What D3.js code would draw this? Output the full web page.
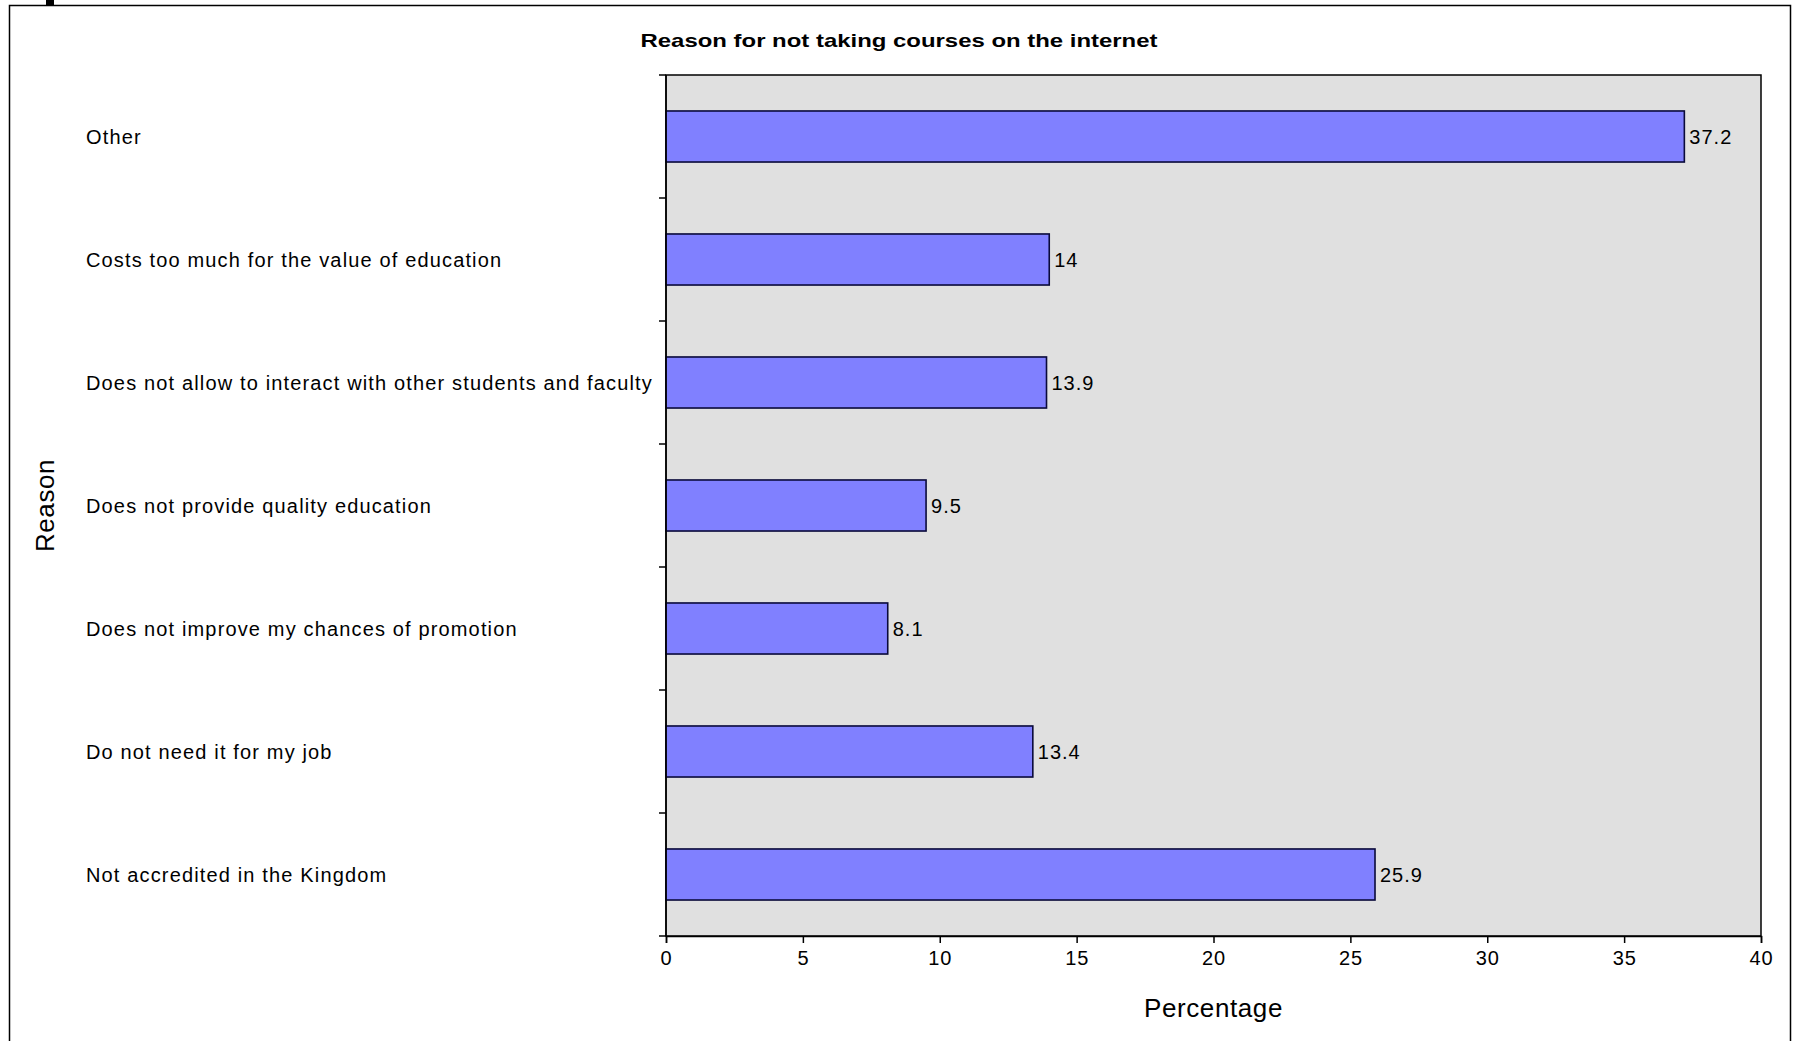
<!DOCTYPE html>
<html>
<head>
<meta charset="utf-8">
<script src="https://cdn.jsdelivr.net/npm/d3@7"></script>
<style>
  html, body { margin: 0; padding: 0; background: #fff; }
  svg { display: block; }
  text { font-family: "Liberation Sans", Arial, sans-serif; fill: #000; }
</style>
</head>
<body>
<svg id="chart" width="1796" height="1041"></svg>
<script>
const categories = [
  "Other",
  "Costs too much for the value of education",
  "Does not allow to interact with other students and faculty",
  "Does not provide quality education",
  "Does not improve my chances of promotion",
  "Do not need it for my job",
  "Not accredited in the Kingdom"
];
const values = [37.2, 14, 13.9, 9.5, 8.1, 13.4, 25.9];
const xTickValues = [0, 5, 10, 15, 20, 25, 30, 35, 40];
const titleText = "Reason for not taking courses on the internet";
const xAxisTitle = "Percentage";
const yAxisTitle = "Reason";

const svg = d3.select("#chart");
const plot = { left: 666, right: 1761, top: 75, bottom: 936 };

// outer frame
svg.append("rect")
  .attr("x", 9.5).attr("y", 5.5)
  .attr("width", 1781).attr("height", 1060)
  .attr("fill", "#fff").attr("stroke", "#000").attr("stroke-width", 1.5);
// small dark mark at the top-left edge
svg.append("rect").attr("x", 46).attr("y", 0).attr("width", 8).attr("height", 6).attr("fill", "#000");

const x = d3.scaleLinear().domain([0, 40]).range([plot.left, plot.right]);
const y = d3.scaleBand().domain(categories).range([plot.top, plot.bottom])
  .paddingInner(0.585).paddingOuter(0.2925);

// plot background
svg.append("rect")
  .attr("x", plot.left).attr("y", plot.top)
  .attr("width", plot.right - plot.left).attr("height", plot.bottom - plot.top)
  .attr("fill", "#e0e0e0").attr("stroke", "#000").attr("stroke-width", 1.5);

// bars
svg.append("g").selectAll("rect")
  .data(categories)
  .join("rect")
  .attr("x", x(0))
  .attr("y", d => y(d))
  .attr("width", (d, i) => x(values[i]) - x(0))
  .attr("height", y.bandwidth())
  .attr("fill", "#8080ff")
  .attr("stroke", "#0a0a3a")
  .attr("stroke-width", 1.6);

// value labels
svg.append("g").selectAll("text")
  .data(categories)
  .join("text")
  .attr("x", (d, i) => x(values[i]) + 5)
  .attr("y", d => y(d) + y.bandwidth() / 2)
  .attr("dy", "0.35em")
  .attr("font-size", 20)
  .attr("letter-spacing", 1)
  .text((d, i) => String(values[i]));

// x axis
const xAxis = d3.axisBottom(x).tickValues(xTickValues).tickSize(7).tickPadding(8).tickFormat(d3.format("d"));
const gx = svg.append("g").attr("transform", `translate(0,${plot.bottom})`).call(xAxis);
gx.select(".domain").attr("stroke", "#000").attr("stroke-width", 1.5);
gx.selectAll(".tick line").attr("stroke", "#000").attr("stroke-width", 1.5);
gx.selectAll(".tick text").attr("font-size", 20).attr("font-family", "Liberation Sans, Arial, sans-serif")
  .attr("fill", "#000").attr("letter-spacing", 0.8);

// y axis ticks at band boundaries
const boundaries = d3.range(categories.length + 1).map(i => plot.top + i * (plot.bottom - plot.top) / categories.length);
svg.append("g").selectAll("line")
  .data(boundaries)
  .join("line")
  .attr("x1", plot.left - 7).attr("x2", plot.left)
  .attr("y1", d => d).attr("y2", d => d)
  .attr("stroke", "#000").attr("stroke-width", 1.5);
svg.append("line")
  .attr("x1", plot.left).attr("x2", plot.left)
  .attr("y1", plot.top).attr("y2", plot.bottom)
  .attr("stroke", "#000").attr("stroke-width", 1.5);

// category labels
svg.append("g").selectAll("text")
  .data(categories)
  .join("text")
  .attr("x", 86)
  .attr("y", d => y(d) + y.bandwidth() / 2)
  .attr("dy", "0.35em")
  .attr("font-size", 20)
  .attr("letter-spacing", 1.15)
  .text(d => d);

// title
svg.append("text")
  .attr("x", 899).attr("y", 40)
  .attr("dy", "0.35em")
  .attr("text-anchor", "middle")
  .attr("font-family", "DejaVu Sans, Verdana, sans-serif")
  .attr("font-weight", "bold")
  .attr("font-size", 19)
  .attr("textLength", 517)
  .attr("lengthAdjust", "spacingAndGlyphs")
  .text(titleText);

// x axis title
svg.append("text")
  .attr("x", (plot.left + plot.right) / 2).attr("y", 1008)
  .attr("dy", "0.35em")
  .attr("text-anchor", "middle")
  .attr("font-size", 26)
  .attr("letter-spacing", 0.6)
  .text(xAxisTitle);

// y axis title
svg.append("text")
  .attr("transform", `translate(45,${(plot.top + plot.bottom) / 2}) rotate(-90)`)
  .attr("dy", "0.35em")
  .attr("text-anchor", "middle")
  .attr("font-size", 26)
  .attr("letter-spacing", 0.6)
  .text(yAxisTitle);
</script>
</body>
</html>
